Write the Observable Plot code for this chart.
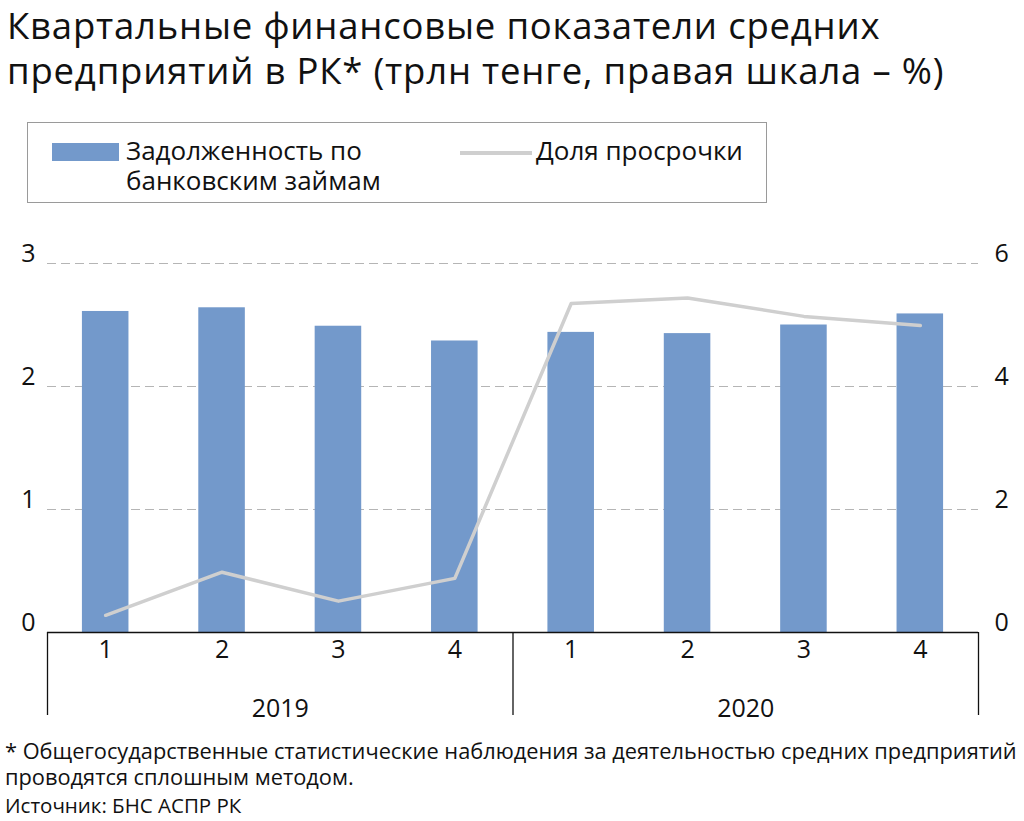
<!DOCTYPE html>
<html>
<head>
<meta charset="utf-8">
<script src="https://cdn.jsdelivr.net/npm/d3@7"></script>
<script src="https://cdn.jsdelivr.net/npm/@observablehq/plot@0.6"></script>
<style>
  html, body { margin: 0; padding: 0; background: #fff; }
  body { width: 1024px; height: 821px; position: relative; overflow: hidden; font-family: "Open Sans", Roboto, sans-serif; color: #111; }
  .t { position: absolute; left: 7px; font-size: 36.5px; line-height: 50px; letter-spacing: 0.8px; font-weight: 400; white-space: nowrap; }
  #legend { position: absolute; left: 27px; top: 122px; width: 740px; height: 81px; border: 1px solid #9a9a9a; box-sizing: border-box; }
  .sw { position: absolute; }
  .lt { position: absolute; font-size: 26px; line-height: 26px; white-space: nowrap; }
  #chart { position: absolute; left: 0; top: 230px; }
  .f { position: absolute; left: 5px; font-size: 21.8px; line-height: 22px; white-space: nowrap; }
  #src { position: absolute; left: 5px; top: 795px; font-size: 20.5px; line-height: 21px; white-space: nowrap; }
</style>
</head>
<body>
<div class="t" style="top:0px;">Квартальные финансовые показатели средних</div>
<div class="t" style="top:45px;">предприятий в РК* (трлн тенге, правая шкала – %)</div>
<div id="legend">
  <div class="sw" style="left:24px; top:20px; width:67px; height:18px; background:#7399CB;"></div>
  <div class="lt" style="left:98px; top:14px;">Задолженность по</div>
  <div class="lt" style="left:98px; top:44px;">банковским займам</div>
  <div class="sw" style="left:432px; top:28px; width:72px; height:4px; background:#cfcfcf;"></div>
  <div class="lt" style="left:508px; top:14px;">Доля просрочки</div>
</div>
<div id="chart"></div>
<div class="f" style="top:740px;">* Общегосударственные статистические наблюдения за деятельностью средних предприятий</div>
<div class="f" style="top:766px;">проводятся сплошным методом.</div>
<div id="src">Источник: БНС АСПР РК</div>
<script>
const quarters = ["1", "2", "3", "4", "1", "2", "3", "4"];
const years = ["2019", "2019", "2019", "2019", "2020", "2020", "2020", "2020"];
const debt = [2.61, 2.64, 2.49, 2.37, 2.44, 2.43, 2.50, 2.59];      // трлн тенге (left)
const overdue = [0.28, 0.98, 0.51, 0.88, 5.35, 5.44, 5.14, 4.99];  // % (right)
const leftTicks = [0, 1, 2, 3];
const rightTicks = [0, 2, 4, 6];
const yearLabels = ["2019", "2020"];

const ratio = 3 / 6; // right scale -> left scale
const data = quarters.map((q, i) => ({i, q, year: years[i], debt: debt[i], pct: overdue[i]}));
const yearData = yearLabels.map(y => ({year: y, i: d3.mean(data.filter(d => d.year === y), d => d.i)}));
const seps = [-0.5, ...yearLabels.map(y => d3.max(data.filter(d => d.year === y), d => d.i) + 0.5)];

const chart = Plot.plot({
  width: 1024,
  height: 500,
  marginLeft: 47,
  marginRight: 46,
  marginTop: 33,
  marginBottom: 98,
  x: {domain: [-0.5, quarters.length - 0.5], axis: null},
  y: {domain: [0, 3], axis: null},
  style: {fontFamily: "'Open Sans', Roboto, sans-serif", color: "#111", background: "#fff"},
  marks: [
    Plot.gridY(leftTicks.filter(t => t > 0), {stroke: "#b5b5b5", strokeOpacity: 1, strokeDasharray: "9,5", strokeWidth: 1.2}),
    Plot.rectY(data, {x1: d => d.i - 0.2, x2: d => d.i + 0.2, y: "debt", fill: "#7399CB"}),
    Plot.line(data, {x: "i", y: d => d.pct * ratio, stroke: "#cfcfcf", strokeWidth: 3.5}),
    Plot.ruleY([0], {stroke: "#111", strokeWidth: 1.5}),
    Plot.ruleX(seps, {y1: 0, y2: -0.675, stroke: "#111", strokeWidth: 1.3}),
    Plot.text(data, {x: "i", y: -0.146, text: "q", fontSize: 25, fill: "#111"}),
    Plot.text(yearData, {x: "i", y: -0.618, text: "year", fontSize: 25, fill: "#111"}),
    Plot.axisY({anchor: "left", ticks: leftTicks, tickFormat: d => String(d), tickSize: 0, tickPadding: 12, fontSize: 25, dy: -10, label: null}),
    Plot.axisY({anchor: "right", ticks: rightTicks.map(t => t * ratio), tickFormat: d => String(Math.round(d / ratio)), tickSize: 0, tickPadding: 16, fontSize: 25, dy: -10, label: null})
  ]
});
document.getElementById("chart").appendChild(chart);
</script>
</body>
</html>
